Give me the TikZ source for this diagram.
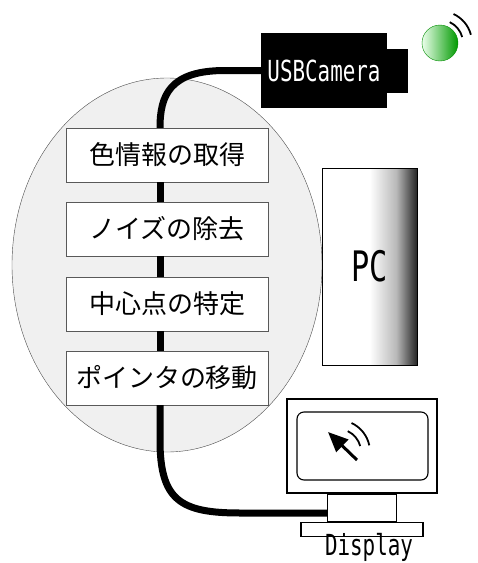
\documentclass[tikz,border=0pt]{standalone}
\usepackage{fontspec}
\newfontfamily\jpfont{Noto Sans CJK JP}
\newfontfamily\halffont[FakeStretch=0.72]{DejaVu Sans Mono}
\usetikzlibrary{calc, arrows.meta}

% sfumatura del case del PC
\pgfdeclarehorizontalshading{pcshade}{100bp}{color(0bp)=(white); color(50bp)=(white); color(64bp)=(gray!55); color(75bp)=(black!85); color(100bp)=(black!85)}

\begin{document}
\begin{tikzpicture}[x=1pt, y=-1pt,
    passo/.style={draw=gray!70!black, fill=white, minimum width=202pt, minimum height=54pt,
      inner sep=0pt, font=\jpfont\fontsize{26}{26}\selectfont},
    cavo/.style={line width=7pt},
    onda/.style={line width=1.8pt},
    etichetta/.style={font=\halffont\fontsize{29}{29}\selectfont}]
    \useasboundingbox (0,0) rectangle (478,563);

    % area di elaborazione
    \draw[gray!60!black, fill=gray!12] (167,265) ellipse (155pt and 187pt);

    % passi dell'elaborazione
    \node[passo] (b1) at (167,155) {色情報の取得};
    \node[passo] (b2) at (167,229) {ノイズの除去};
    \node[passo] (b3) at (167,304) {中心点の特定};
    \node[passo] (b4) at (167,378) {ポインタの移動};

    % camera
    \node[fill=black, text=white, etichetta, minimum width=126pt, minimum height=75pt, inner sep=0pt] (cam) at (324,70.5) {USBCamera};
    \node[fill=black, minimum width=22pt, minimum height=44pt, inner sep=0pt, anchor=west] (lente) at ($(cam.east)+(-1,0)$) {};

    % led verde e onde
    \coordinate (led) at (440,43);
    \shade[left color=green!8, right color=green!60!black, draw=green!55!black] (led) circle (18pt);
    \draw[onda] ($(led)+(15:23pt)$) arc[start angle=15, end angle=65, radius=23pt];
    \draw[onda] ($(led)+(15:32pt)$) arc[start angle=15, end angle=65, radius=32pt];

    % PC
    \node[draw, shading=pcshade, minimum width=95pt, minimum height=197pt, inner sep=0pt,
      font=\halffont\fontsize{42}{42}\selectfont] (pc) at (369.5,266.5) {PC};

    % cavo
    \coordinate (cx) at (160,0);
    \coordinate (spina) at (328,513);
    \draw[cavo] (cam.west) -- (225,70.5) .. controls (170,70.5) and (160,95) .. (b1.north -| cx);
    \foreach \a/\b in {b1/b2, b2/b3, b3/b4}
        \draw[cavo] (\a.south -| cx) -- (\b.north -| cx);
    \draw[cavo] (b4.south -| cx) -- (160,440) .. controls (160,500) and (180,513) .. (240,513) -- (spina);

    % display
    \node[draw, line width=1.1pt, minimum width=150pt, minimum height=94pt, inner sep=0pt] (monitor) at (362,446) {};
    \node[draw, line width=1.1pt, rounded corners=7pt, minimum width=131pt, minimum height=68pt, inner sep=0pt] (schermo) at (362.5,446) {};
    \node[draw, line width=1.1pt, fill=white, minimum width=69pt, minimum height=27pt, inner sep=0pt, anchor=north] (collo) at (monitor.south) {};
    \node[draw, line width=1.1pt, fill=white, minimum width=122pt, minimum height=14pt, inner sep=0pt, anchor=north] (base) at (collo.south) {};
    \node[etichetta, inner sep=0pt, anchor=base] (disp) at (369,555) {Display};

    % puntatore
    \coordinate (punta) at (328,432);
    \coordinate (coda) at (357,460);
    \draw[line width=3pt, -{Triangle[length=20pt, width=17pt]}] (coda) -- (punta);
    \coordinate (eco) at (338,452);
    \draw[onda] ($(eco)+(15:23pt)$) arc[start angle=15, end angle=65, radius=23pt];
    \draw[onda] ($(eco)+(12:32pt)$) arc[start angle=12, end angle=65, radius=32pt];
\end{tikzpicture}
\end{document}
